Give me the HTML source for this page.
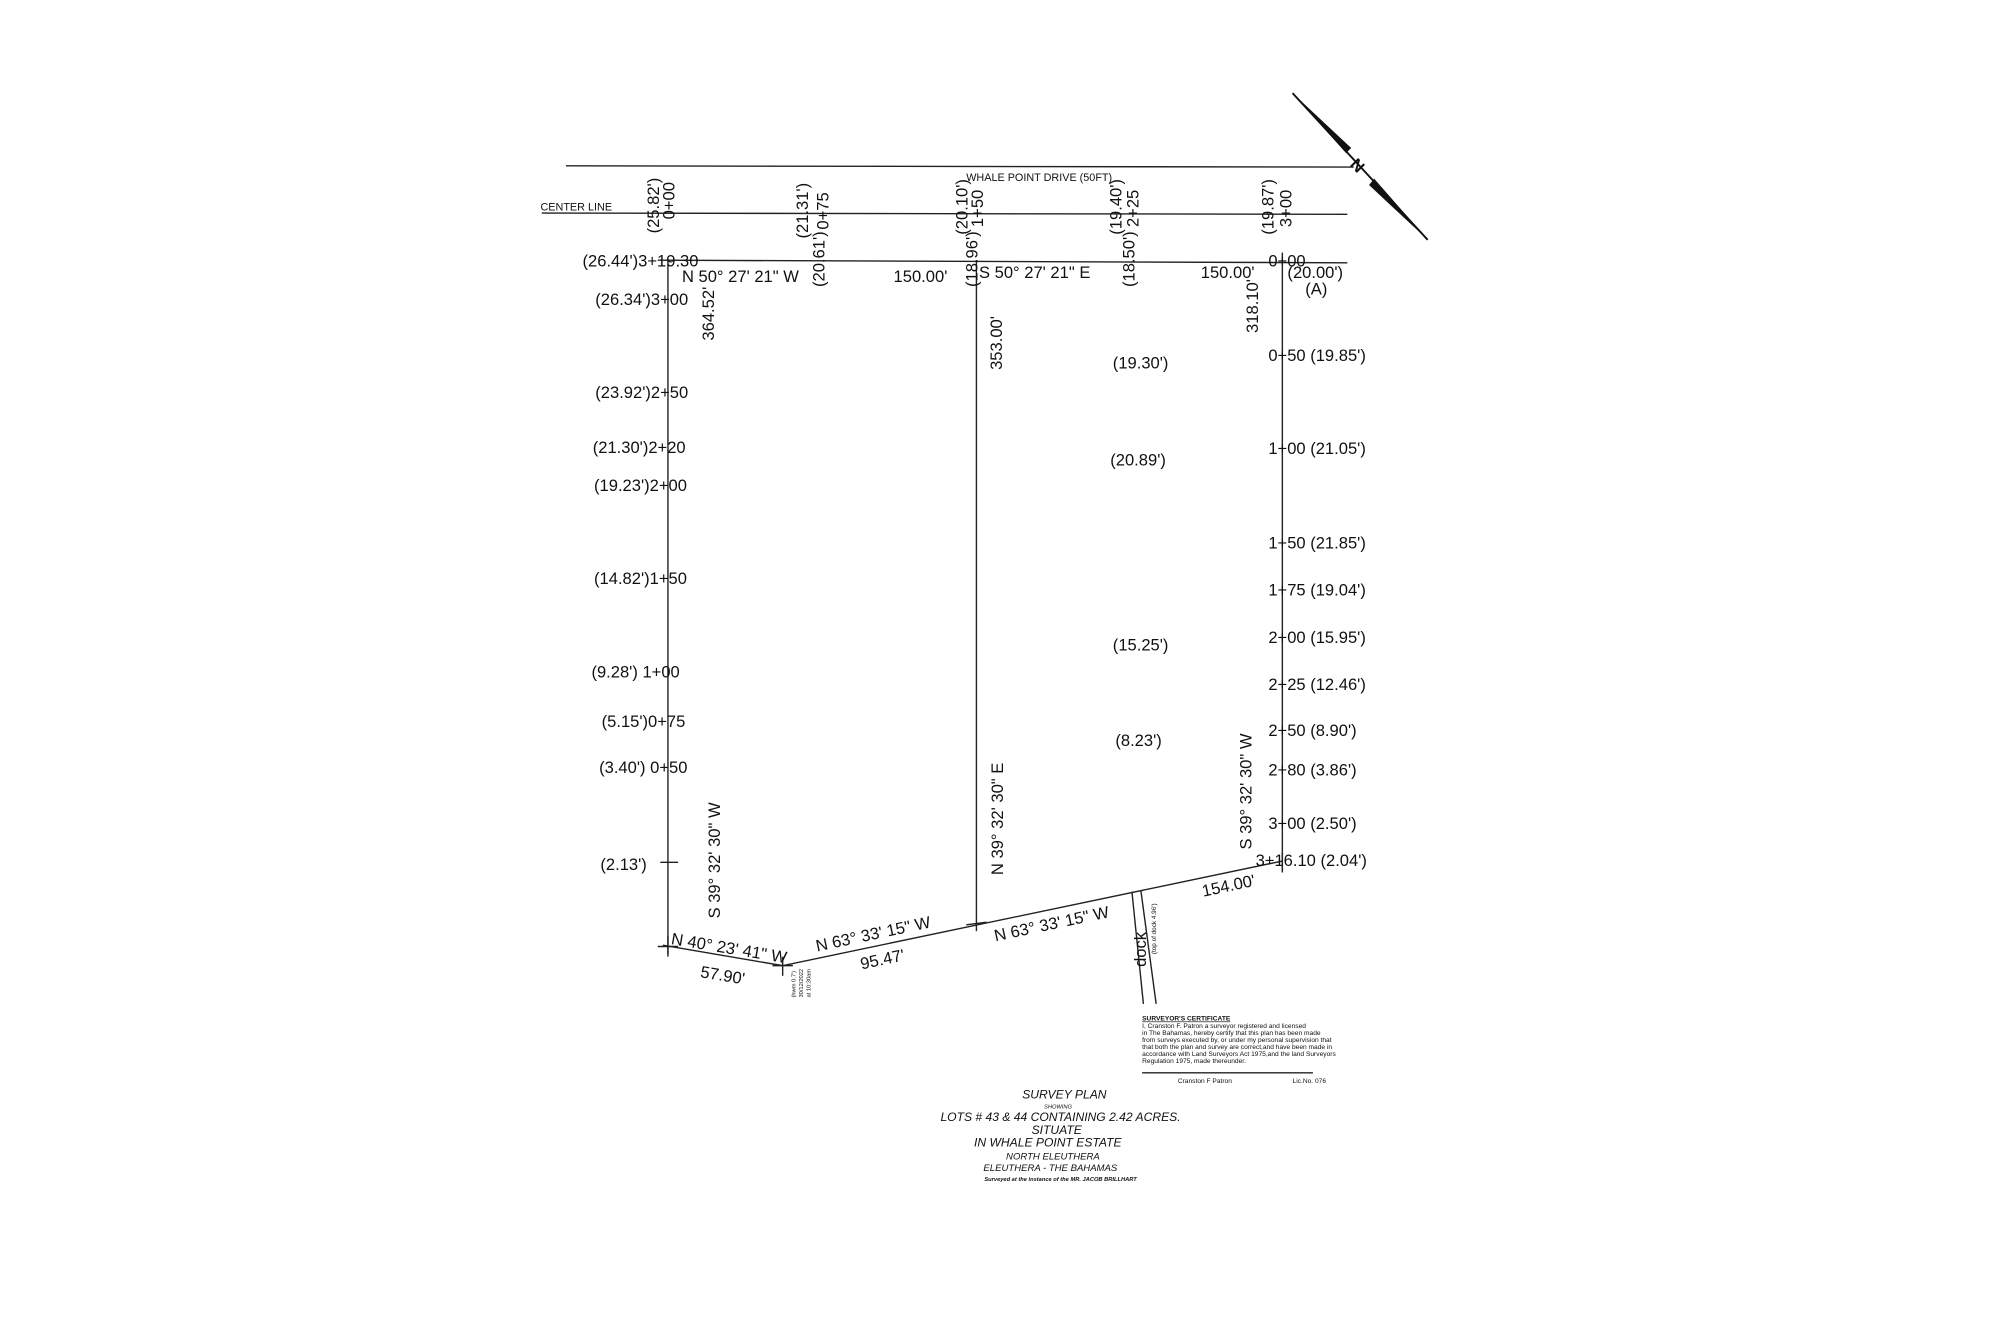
<!DOCTYPE html>
<html><head><meta charset="utf-8"><style>
html,body{margin:0;padding:0;background:#fff;}
svg{display:block;}
text{font-family:"Liberation Sans",sans-serif;fill:#111;}
.t{font-size:13px;}
.i{font-style:italic;font-size:9.5px;}
</style></head><body>
<svg width="2000" height="1333" viewBox="0 0 1569 1045" preserveAspectRatio="none" xmlns="http://www.w3.org/2000/svg">
<g stroke="#222" stroke-width="1.1" fill="none">
<line x1="444" y1="130" x2="1062" y2="131"/>
<line x1="425" y1="167" x2="1057" y2="168"/>
<line x1="516" y1="204" x2="1057" y2="206"/>
<line x1="524" y1="204" x2="524" y2="748"/>
<line x1="766" y1="205" x2="766" y2="730"/>
<line x1="1006" y1="198" x2="1006" y2="683"/>
<polyline points="520,741 614,757 1006,675"/>
<line x1="888" y1="699" x2="897" y2="787"/>
<line x1="895" y1="698" x2="907" y2="787"/>
<line x1="516" y1="742" x2="532" y2="742"/><line x1="524" y1="734" x2="524" y2="750"/>
<line x1="606" y1="757" x2="622" y2="757"/><line x1="614" y1="750" x2="614" y2="765"/>
<line x1="518" y1="676" x2="532" y2="676"/>
<line x1="758" y1="725" x2="774" y2="723"/>
<line x1="1006" y1="668" x2="1006" y2="684"/>
<line x1="896" y1="841" x2="1030" y2="841"/>
</g>
<polygon points="1014,73 1060,116 1056,120" fill="#111"/>
<polygon points="1120,188 1078,140 1074,145" fill="#111"/>
<line x1="1014" y1="73" x2="1120" y2="188" stroke="#111" stroke-width="1.5"/>
<text class="t" x="1060" y="136" transform="rotate(45 1067 131)" font-weight="bold">N</text>

<text x="758" y="142" style="font-size:8.5px">WHALE POINT DRIVE  (50FT)</text>
<text x="424" y="165" style="font-size:8.5px">CENTER LINE</text>

<g class="t">
<text x="517" y="183" transform="rotate(-90 517 183)">(25.82')</text>
<text x="529" y="172" transform="rotate(-90 529 172)">0+00</text>
<text x="634" y="187" transform="rotate(-90 634 187)">(21.31')</text>
<text x="650" y="180" transform="rotate(-90 650 180)">0+75</text>
<text x="759" y="184" transform="rotate(-90 759 184)">(20.10')</text>
<text x="771" y="178" transform="rotate(-90 771 178)">1+50</text>
<text x="880" y="184" transform="rotate(-90 880 184)">(19.40')</text>
<text x="893" y="178" transform="rotate(-90 893 178)">2+25</text>
<text x="999" y="184" transform="rotate(-90 999 184)">(19.87')</text>
<text x="1013" y="178" transform="rotate(-90 1013 178)">3+00</text>
<text x="647" y="225" transform="rotate(-90 647 225)">(20.61')</text>
<text x="767" y="225" transform="rotate(-90 767 225)">(18.96')</text>
<text x="890" y="225" transform="rotate(-90 890 225)">(18.50')</text>

<text x="457" y="209">(26.44')3+19.30</text>
<text x="535" y="221">N 50° 27' 21" W</text>
<text x="701" y="221">150.00'</text>
<text x="768" y="218">S 50° 27' 21" E</text>
<text x="942" y="218">150.00'</text>
<text x="995" y="209">0+00</text>
<text x="1010" y="218">(20.00')</text>
<text x="1024" y="231">(A)</text>

<text x="467" y="239">(26.34')3+00</text>
<text x="467" y="312">(23.92')2+50</text>
<text x="465" y="355">(21.30')2+20</text>
<text x="466" y="385">(19.23')2+00</text>
<text x="466" y="458">(14.82')1+50</text>
<text x="464" y="531">(9.28')  1+00</text>
<text x="472" y="570">(5.15')0+75</text>
<text x="470" y="606">(3.40') 0+50</text>
<text x="471" y="682">(2.13')</text>

<text x="873" y="289">(19.30')</text>
<text x="871" y="365">(20.89')</text>
<text x="873" y="510">(15.25')</text>
<text x="875" y="585">(8.23')</text>

<text x="995" y="283">0+50 (19.85')</text>
<text x="995" y="356">1+00 (21.05')</text>
<text x="995" y="430">1+50 (21.85')</text>
<text x="995" y="467">1+75 (19.04')</text>
<text x="995" y="504">2+00 (15.95')</text>
<text x="995" y="541">2+25 (12.46')</text>
<text x="995" y="577">2+50  (8.90')</text>
<text x="995" y="608">2+80 (3.86')</text>
<text x="995" y="650">3+00  (2.50')</text>
<text x="985" y="679">3+16.10 (2.04')</text>

<text x="560" y="267" transform="rotate(-90 560 267)">364.52'</text>
<text x="786" y="290" transform="rotate(-90 786 290)">353.00'</text>
<text x="987" y="261" transform="rotate(-90 987 261)">318.10'</text>
<text x="565" y="720" transform="rotate(-90 565 720)">S 39° 32' 30" W</text>
<text x="787" y="686" transform="rotate(-90 787 686)">N 39° 32' 30" E</text>
<text x="982" y="666" transform="rotate(-90 982 666)">S 39° 32' 30" W</text>

<text x="526" y="740" transform="rotate(9.5 526 740)">N 40° 23' 41" W</text>
<text x="549" y="766" transform="rotate(9.5 549 766)">57.90'</text>
<text x="641" y="746" transform="rotate(-12 641 746)">N 63° 33' 15" W</text>
<text x="676" y="760" transform="rotate(-12 676 760)">95.47'</text>
<text x="781" y="738" transform="rotate(-12 781 738)">N 63° 33' 15" W</text>
<text x="944" y="703" transform="rotate(-12 944 703)">154.00'</text>
<text x="899" y="758" transform="rotate(-90 899 758)">dock</text>
</g>
<text x="907" y="748" transform="rotate(-90 907 748)" style="font-size:5px">(top of dock 4.96')</text>
<text x="624" y="782" transform="rotate(-90 624 782)" style="font-size:4.5px">(hwm 0.7')</text>
<text x="630" y="782" transform="rotate(-90 630 782)" style="font-size:4.5px">30/12/2022</text>
<text x="636" y="782" transform="rotate(-90 636 782)" style="font-size:4.5px">at 10:30am</text>

<g style="font-size:5.2px">
<text x="896" y="800" font-weight="bold" text-decoration="underline">SURVEYOR'S CERTIFICATE</text>
<text x="896" y="806">I, Cranston F. Patron a surveyor registered and licensed</text>
<text x="896" y="811.5">in The Bahamas, hereby certify that this plan has been made</text>
<text x="896" y="817">from surveys executed by, or under my personal supervision that</text>
<text x="896" y="822.5">that both the plan and survey are correct,and have been made in</text>
<text x="896" y="828">accordance with Land Surveyors Act 1975,and the land Surveyors</text>
<text x="896" y="833.5">Regulation 1975, made thereunder.</text>
<text x="924" y="849">Cranston F Patron</text>
<text x="1014" y="849">Lic.No. 076</text>
</g>

<g text-anchor="middle">
<text class="i" x="835" y="861">SURVEY PLAN</text>
<text x="830" y="869" style="font-size:4.5px;font-style:italic">SHOWING</text>
<text class="i" x="832" y="879">LOTS # 43 &amp; 44 CONTAINING 2.42 ACRES.</text>
<text class="i" x="829" y="889">SITUATE</text>
<text class="i" x="822" y="899">IN WHALE POINT ESTATE</text>
<text x="826" y="909" style="font-size:7.5px;font-style:italic">NORTH ELEUTHERA</text>
<text x="824" y="918" style="font-size:7.5px;font-style:italic">ELEUTHERA - THE BAHAMAS</text>
<text x="832" y="926" style="font-size:4.5px;font-style:italic;font-weight:bold">Surveyed at the instance of the MR. JACOB BRILLHART</text>
</g>
</svg>
</body></html>
